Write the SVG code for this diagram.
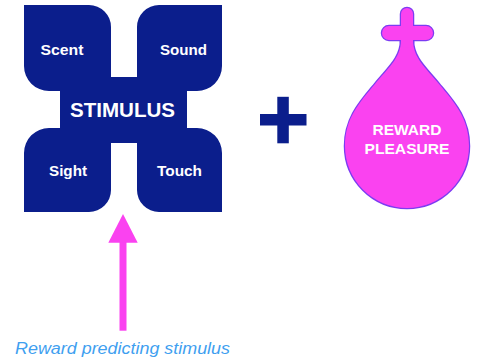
<svg xmlns="http://www.w3.org/2000/svg" width="478" height="362" viewBox="0 0 478 362">
<style>
.navy{fill:#0b1e8c}
.lbl{font-family:"Liberation Sans",Arial,sans-serif;font-weight:bold;fill:#ffffff;text-anchor:middle}
.pink{fill:#fa42f0}
.cap{font-family:"Liberation Sans",Arial,sans-serif;font-style:italic;fill:#3f9ff0}
</style>
<rect width="478" height="362" fill="#ffffff"/>
<g id="stimulus">
<path class="navy" d="M24,5 H89 A22,22 0 0 1 111,27 V77 H137 V27 A22,22 0 0 1 159,5 H222 V66 A25,25 0 0 1 197,91 H187 V128 H197 A25,25 0 0 1 222,153 V212 H159 A22,22 0 0 1 137,190 V143 H111 V190 A22,22 0 0 1 89,212 H24 V153 A25,25 0 0 1 49,128 H60 V91 H49 A25,25 0 0 1 24,66 Z"/>
<text class="lbl" x="62" y="54.5" font-size="15" textLength="43" lengthAdjust="spacingAndGlyphs">Scent</text>
<text class="lbl" x="183.5" y="54.5" font-size="15" textLength="47" lengthAdjust="spacingAndGlyphs">Sound</text>
<text class="lbl" x="122.5" y="116.5" font-size="20" textLength="105" lengthAdjust="spacingAndGlyphs">STIMULUS</text>
<text class="lbl" x="68" y="175.5" font-size="15" textLength="38" lengthAdjust="spacingAndGlyphs">Sight</text>
<text class="lbl" x="179.5" y="175.5" font-size="15" textLength="45" lengthAdjust="spacingAndGlyphs">Touch</text>
</g>
<g id="plus">
<rect class="navy" x="260" y="114" width="46.5" height="11.5"/>
<rect class="navy" x="277.3" y="96.8" width="11.5" height="46.5"/>
</g>
<g id="reward">
<g stroke="#7c3cf2" stroke-width="2.5" class="pink">
<path d="M401,40 C401,58 388,68 375,84 C360,102 345,118 345,146 A62,62 0 0 0 469,146 C469,118 454,102 439,84 C426,68 413,58 413,40 Z"/>
<rect x="401" y="8" width="12" height="40" rx="6"/>
<rect x="382" y="26" width="51" height="14" rx="7"/>
</g>
<g class="pink">
<path d="M401,40 C401,58 388,68 375,84 C360,102 345,118 345,146 A62,62 0 0 0 469,146 C469,118 454,102 439,84 C426,68 413,58 413,40 Z"/>
<rect x="401" y="8" width="12" height="40" rx="6"/>
<rect x="382" y="26" width="51" height="14" rx="7"/>
</g>
<text class="lbl" x="407" y="135" font-size="15" textLength="69" lengthAdjust="spacingAndGlyphs">REWARD</text>
<text class="lbl" x="407" y="154" font-size="15" textLength="85" lengthAdjust="spacingAndGlyphs">PLEASURE</text>
</g>
<g id="connectors">
<rect class="pink" x="119.5" y="240" width="7" height="90.7"/>
<polygon class="pink" points="123,214 137.7,242.7 108.3,242.7"/>
</g>
<text class="cap" x="15" y="354" font-size="16" textLength="215" lengthAdjust="spacingAndGlyphs">Reward predicting stimulus</text>
</svg>
